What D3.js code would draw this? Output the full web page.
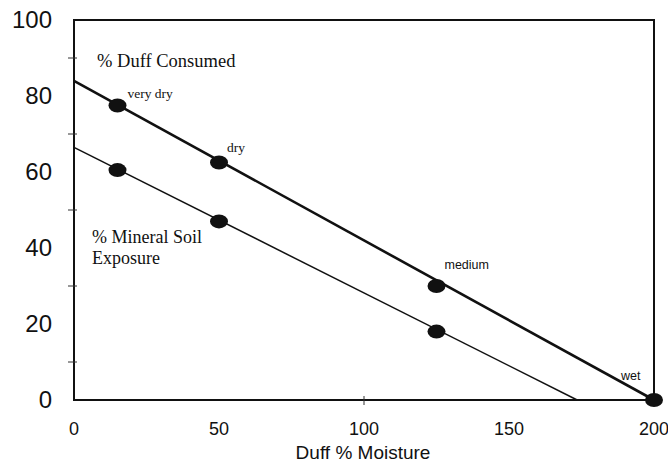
<!DOCTYPE html>
<html>
<head>
<meta charset="utf-8">
<script src="https://cdn.jsdelivr.net/npm/d3@7"></script>
<style>
html,body{margin:0;padding:0;background:#fff;}
svg{display:block;}
</style>
</head>
<body>
<svg id="chart" width="668" height="464"></svg>
<script>
// ---- data ----
const moistureLevels = ["very dry", "dry", "medium", "wet"];
const duffMoisture = [15, 50, 125, 200];
const duffConsumed = [77.5, 62.5, 30, 0];
const mineralMoisture = [15, 50, 125];
const mineralExposure = [60.5, 47, 18];
const duffLineX = [0, 200];
const duffLineY = [84, 0];
const mineralLineX = [0, 173.5];
const mineralLineY = [66.5, 0];
const xTicks = [0, 50, 100, 150, 200];
const yTicks = [0, 20, 40, 60, 80, 100];
const yMinorTicks = [10, 30, 50, 70, 90];
const xMarkTicks = [100];

const svg = d3.select("#chart");
const x = d3.scaleLinear().domain([0, 200]).range([74, 654]);
const y = d3.scaleLinear().domain([0, 100]).range([400, 20]);
const sans = "'Liberation Sans', Arial, sans-serif";
const serif = "'Liberation Serif', 'Times New Roman', serif";
const ink = "#111";

// frame
svg.append("rect")
  .attr("x", x(0)).attr("y", y(100))
  .attr("width", x(200) - x(0)).attr("height", y(0) - y(100))
  .attr("fill", "none").attr("stroke", ink).attr("stroke-width", 2);

// y ticks (minor, crossing)
svg.selectAll(".ymt").data(yMinorTicks).enter().append("line")
  .attr("x1", x(0) - 6).attr("x2", x(0) + 3)
  .attr("y1", d => y(d)).attr("y2", d => y(d))
  .attr("stroke", "#333").attr("stroke-width", 1);
// x tick marks
svg.selectAll(".xmt").data(xMarkTicks).enter().append("line")
  .attr("x1", d => x(d)).attr("x2", d => x(d))
  .attr("y1", y(0) - 4).attr("y2", y(0) + 5)
  .attr("stroke", "#333").attr("stroke-width", 1);

// y tick labels
svg.selectAll(".yl").data(yTicks).enter().append("text")
  .attr("x", 52).attr("y", d => y(d) - 1)
  .attr("dy", "0.36em")
  .attr("text-anchor", "end")
  .attr("font-family", sans).attr("font-size", 24)
  .attr("fill", ink)
  .text(d => d);

// x tick labels
svg.selectAll(".xl").data(xTicks).enter().append("text")
  .attr("x", d => x(d)).attr("y", 429)
  .attr("dy", "0.36em")
  .attr("text-anchor", "middle")
  .attr("font-family", sans).attr("font-size", 18)
  .attr("fill", ink)
  .text(d => d);

// x axis title
svg.append("text")
  .attr("x", 363).attr("y", 459)
  .attr("text-anchor", "middle")
  .attr("font-family", sans).attr("font-size", 19)
  .attr("fill", ink)
  .text("Duff % Moisture");

const line = d3.line().x(d => x(d[0])).y(d => y(d[1]));

// lines
svg.append("path")
  .datum(d3.zip(duffLineX, duffLineY))
  .attr("d", line).attr("fill", "none")
  .attr("stroke", ink).attr("stroke-width", 2.6);
svg.append("path")
  .datum(d3.zip(mineralLineX, mineralLineY))
  .attr("d", line).attr("fill", "none")
  .attr("stroke", ink).attr("stroke-width", 1.5);

// points
svg.selectAll(".dp").data(d3.zip(duffMoisture, duffConsumed)).enter().append("ellipse")
  .attr("cx", d => x(d[0])).attr("cy", d => y(d[1]))
  .attr("rx", 9).attr("ry", 7).attr("fill", ink);
svg.selectAll(".mp").data(d3.zip(mineralMoisture, mineralExposure)).enter().append("ellipse")
  .attr("cx", d => x(d[0])).attr("cy", d => y(d[1]))
  .attr("rx", 9).attr("ry", 7).attr("fill", ink);

// moisture level labels (offsets relative to points)
const lvlStyle = [
  {dx: 10, dy: -8, font: serif, size: 13.5},
  {dx: 8, dy: -11, font: serif, size: 13.5},
  {dx: 8, dy: -17, font: sans, size: 12.5},
  {dx: -33, dy: -20, font: sans, size: 12.5}
];
svg.selectAll(".lv").data(moistureLevels).enter().append("text")
  .attr("x", (d, i) => x(duffMoisture[i]) + lvlStyle[i].dx)
  .attr("y", (d, i) => y(duffConsumed[i]) + lvlStyle[i].dy)
  .attr("font-family", (d, i) => lvlStyle[i].font)
  .attr("font-size", (d, i) => lvlStyle[i].size)
  .attr("fill", ink)
  .text(d => d);

// series labels
svg.append("text")
  .attr("x", 97).attr("y", 67)
  .attr("font-family", serif).attr("font-size", 18.5)
  .attr("fill", ink)
  .text("% Duff Consumed");
const ml = svg.append("text")
  .attr("font-family", serif).attr("font-size", 18)
  .attr("fill", ink);
ml.append("tspan").attr("x", 92).attr("y", 243).text("% Mineral Soil");
ml.append("tspan").attr("x", 92).attr("y", 264).text("Exposure");
</script>
</body>
</html>
